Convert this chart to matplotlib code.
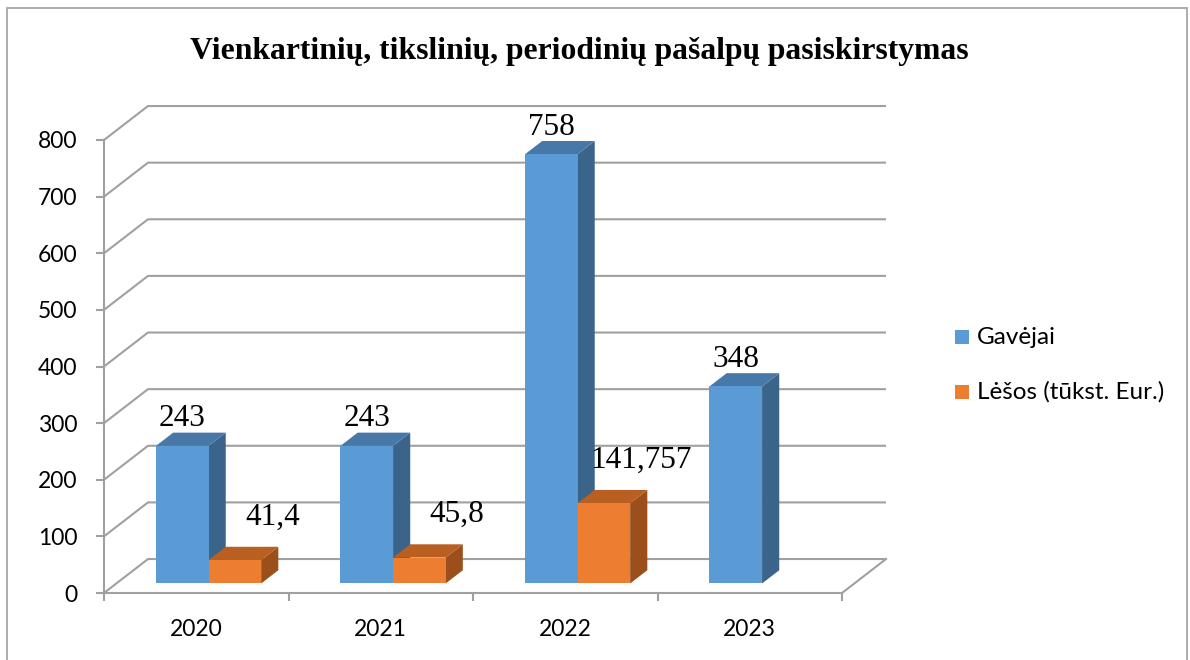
"""
Pseudo-3D clustered column chart of one-off, targeted and periodic benefits by year.
Saves out.png.
"""

import matplotlib

matplotlib.use("Agg")
import matplotlib.pyplot as plt
from matplotlib.patches import Polygon, Rectangle

years = ["2020", "2021", "2022", "2023"]
series_names = ["Gavėjai", "Lėšos (tūkst. Eur.)"]
recipients = [243, 243, 758, 348]
funds = [41.4, 45.8, 141.757, None]
fund_labels = ["41,4", "45,8", "141,757", ""]
y_ticks = [0, 100, 200, 300, 400, 500, 600, 700, 800]

TITLE = "Vienkartinių, tikslinių, periodinių pašalpų pasiskirstymas"

# face colours: front, top, side
BLUE = ("#5B9BD5", "#4878A8", "#3A6489")
ORANGE = ("#ED7D31", "#B95F22", "#9B4F1B")
GRID = "#A0A0A0"

# depth of the floor in data units (x in category slots, y in values)
DX = 0.2385
DY = 60.0
D0, D1 = 0.28, 0.67  # bar front / back as fraction of depth
BAR_W = 0.285

W_PX, H_PX = 1190, 660


def draw_bar(ax, x0, value, colors):
    fy0 = D0 * DY
    dd = D1 - D0
    front = Rectangle((x0, fy0), BAR_W, value, facecolor=colors[0],
                      edgecolor="none", zorder=3, clip_on=False)
    top = Polygon([(x0, value + fy0), (x0 + BAR_W, value + fy0),
                   (x0 + BAR_W + dd * DX, value + D1 * DY),
                   (x0 + dd * DX, value + D1 * DY)],
                  closed=True, facecolor=colors[1], edgecolor="none",
                  zorder=3, clip_on=False)
    side = Polygon([(x0 + BAR_W, fy0), (x0 + BAR_W + dd * DX, D1 * DY),
                    (x0 + BAR_W + dd * DX, value + D1 * DY),
                    (x0 + BAR_W, value + fy0)],
                   closed=True, facecolor=colors[2], edgecolor="none",
                   zorder=3, clip_on=False)
    for p in (side, top, front):
        ax.add_patch(p)


def main():
    plt.rcParams["font.family"] = ["Lato", "DejaVu Sans"]
    fig = plt.figure(figsize=(W_PX / 100, H_PX / 100), dpi=100)

    # outer chart border
    fig.patches.append(Rectangle((7 / W_PX, -0.05), 1180 / W_PX, 1.05 - 8 / H_PX,
                                 transform=fig.transFigure, fill=False,
                                 edgecolor="#A6A6A6", linewidth=1.3))

    ax = fig.add_axes([104 / W_PX, (H_PX - 593) / H_PX, 738 / W_PX, 453 / H_PX])
    n = len(years)
    ax.set_xlim(0, n)
    ax.set_ylim(0, 800)
    ax.patch.set_visible(False)
    for s in ("top", "right"):
        ax.spines[s].set_visible(False)
    for s in ("left", "bottom"):
        ax.spines[s].set_color(GRID)
        ax.spines[s].set_linewidth(1.5)

    ax.set_yticks(y_ticks)
    ax.set_yticklabels([str(t) for t in y_ticks])
    ax.set_xticks(range(n + 1))
    ax.set_xticklabels([""] * (n + 1))
    ax.set_xticks([i + 0.5 for i in range(n)], minor=True)
    ax.set_xticklabels(years, minor=True)
    ax.tick_params(axis="both", which="major", direction="out", length=6,
                   width=1.5, color=GRID, labelsize=16.5)
    ax.tick_params(axis="y", pad=13)
    ax.tick_params(axis="x", which="minor", length=0, labelsize=16.5, pad=19)

    # back wall gridlines and floor
    for v in y_ticks:
        ax.plot([0, DX, n + DX], [v, v + DY, v + DY], color=GRID, lw=1.5,
                zorder=1, clip_on=False, solid_capstyle="butt")
    ax.plot([n, n + DX], [0, DY], color=GRID, lw=1.5, zorder=1, clip_on=False)

    # bars
    for i in range(n):
        left = i + 0.5 - BAR_W + D0 * DX
        draw_bar(ax, left, recipients[i], BLUE)
        ax.annotate(str(recipients[i]),
                    (left + BAR_W / 2, recipients[i] + D1 * DY),
                    xytext=(0, 4.5), textcoords="offset points",
                    ha="center", va="baseline", fontsize=22.5,
                    family="Liberation Serif", zorder=5, annotation_clip=False)
        if funds[i] is not None:
            draw_bar(ax, left + BAR_W, funds[i], ORANGE)
            ax.annotate(fund_labels[i],
                        (left + 1.5 * BAR_W, funds[i] + D1 * DY),
                        xytext=(27, 16), textcoords="offset points",
                        ha="center", va="baseline", fontsize=22.5,
                        family="Liberation Serif", zorder=5,
                        annotation_clip=False)

    # title
    fig.text(579 / W_PX, 1 - 52 / H_PX, TITLE, ha="center", va="center",
             fontsize=22.8, fontweight="bold", family="Liberation Serif")

    # legend
    for k, (name, col) in enumerate(zip(series_names, (BLUE[0], ORANGE[0]))):
        yc = 337 + k * 55
        fig.patches.append(Rectangle((955 / W_PX, 1 - (yc + 7) / H_PX),
                                     14 / W_PX, 14 / H_PX,
                                     transform=fig.transFigure,
                                     facecolor=col, edgecolor="none"))
        fig.text(977 / W_PX, 1 - yc / H_PX, name, ha="left", va="center",
                 fontsize=17.5)

    fig.savefig("out.png", dpi=100)
    plt.close(fig)


if __name__ == "__main__":
    main()
